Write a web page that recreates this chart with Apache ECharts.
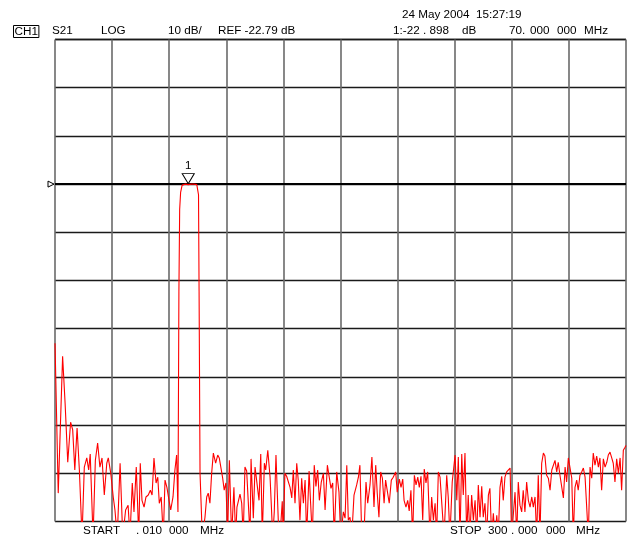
<!DOCTYPE html>
<html>
<head>
<meta charset="utf-8">
<script src="https://cdn.jsdelivr.net/npm/echarts@6/dist/echarts.min.js"></script>
<style>
html,body{margin:0;padding:0;background:#fff;}
#c{width:627px;height:538px;}
</style>
</head>
<body>
<div id="c"></div>
<script>
// ---- data (frequency in MHz, S21 in dB) ----
const freqMHz = [
0.01,1.7,4.0,5.3,6.7,8.2,9.3,10.4,11.6,12.8,14.2,15.4,16.7,17.7,18.5,20.0,21.2,22.4,23.6,24.7,25.9,27.2,28.0,29.3,30.6,31.5,32.7,34.2,35.6,37.1,38.4,39.4,40.6,41.5,42.7,44.0,44.8,45.7,46.8,47.8,49.0,50.1,51.0,52.0,53.1,54.0,54.8,55.8,56.9,57.8,58.8,59.9,60.8,62.0,63.0,63.9,64.6,
65.1,65.5,66.0,66.8,67.5,68.5,70.0,71.5,73.0,74.5,75.0,75.4,75.7,76.2,
77.4,78.8,79.7,80.5,81.4,82.3,83.2,84.4,85.5,86.3,87.2,88.1,88.9,89.8,90.7,91.6,92.8,94.0,94.9,95.6,96.3,97.2,98.1,98.9,99.8,100.7,101.6,102.5,103.0,104.2,105.1,106.0,107.2,108.1,108.9,110.0,110.7,111.8,113.0,114.4,115.2,116.1,117.3,118.2,119.4,119.9,120.8,121.7,123.5,124.4,125.2,126.1,127.0,127.8,128.7,129.6,130.5,131.4,132.2,133.5,134.3,135.2,136.2,137.1,138.0,138.9,139.9,141.0,141.9,143.1,144.0,145.0,145.9,146.7,148.0,149.2,150.1,151.5,152.4,153.3,154.1,155.0,155.9,157.1,158.5,159.4,160.2,161.1,162.3,163.4,164.3,165.5,166.5,167.6,168.5,169.3,170.2,171.1,172.0,172.9,173.7,174.6,175.6,176.7,177.7,179.0,179.8,180.9,181.8,182.7,183.4,184.4,185.3,186.1,187.0,187.9,188.8,189.7,190.6,191.4,192.3,193.2,194.0,194.9,195.8,197.0,197.9,198.8,199.7,200.5,201.4,202.3,203.3,204.4,205.8,206.6,207.5,208.7,209.5,210.2,211.1,211.9,212.8,213.7,214.5,215.4,216.3,217.1,218.0,218.9,219.8,220.7,221.6,222.4,223.3,224.2,225.0,225.9,226.8,227.7,228.5,229.4,230.3,231.2,232.1,232.9,233.8,234.7,235.5,236.4,237.3,238.2,239.1,239.9,240.8,241.7,242.6,243.4,244.3,245.2,246.0,246.9,247.8,248.7,249.6,250.5,251.3,252.2,253.1,253.9,254.8,255.7,256.6,257.4,258.3,259.2,260.1,261.0,261.8,262.7,263.6,264.4,265.3,266.2,267.1,268.0,268.8,269.7,270.6,271.5,272.3,273.2,274.1,274.9,275.8,276.7,277.6,278.5,279.4,280.2,281.1,282.0,282.8,283.7,284.6,285.5,286.3,287.2,288.1,289.0,289.9,290.7,291.6,292.5,293.3,294.2,295.1,296.0,296.9,297.7,298.6,299.5,300.0
];
const s21dB = [
-55.8,-86.9,-58.5,-68.2,-80.5,-72.2,-73.8,-82.1,-73.4,-82.1,-96,-81.5,-79.6,-82.1,-78.8,-96,-80.1,-76.5,-81.5,-79.6,-87.3,-80.7,-79.6,-82.8,-87.7,-90.4,-96,-80.7,-96,-90.4,-89.4,-96,-84.8,-90.8,-81.5,-96,-80.7,-88.4,-89.8,-87.7,-87.3,-86.3,-87.3,-79.6,-84.8,-83.6,-89.0,-87.7,-96,-84.2,-85.7,-88.4,-90.4,-87.7,-82.1,-79.0,-90.8,
-45,-28,-24.5,-23.0,-22.9,-22.8,-22.9,-22.8,-22.8,-22.9,-23.2,-25.0,-45,-82.8,
-96,-91.9,-87.7,-86.9,-89.0,-82.8,-78.6,-80.7,-79.0,-79.6,-79.6,-83.8,-86.3,-84.8,-96,-80.1,-96,-85.7,-96,-89.8,-89.6,-87.1,-89.0,-96,-81.5,-82.3,-82.3,-96,-79.8,-92.1,-81.5,-81.1,-88.4,-78.8,-96,-80.7,-82.1,-78.0,-83.6,-96,-90.8,-79.0,-92.5,-96,-88.6,-96,-82.8,-83.4,-85.7,-87.9,-82.1,-89.0,-80.7,-84.2,-92.5,-83.8,-89.0,-84.2,-96,-82.3,-89.0,-96,-81.1,-85.5,-82.1,-88.4,-84.6,-82.8,-90.4,-81.1,-81.1,-85.9,-84.8,-96,-82.5,-86.7,-96,-90.8,-92.1,-81.1,-92.5,-91.9,-96,-87.3,-85.2,-83.6,-81.1,-95,-96,-84.6,-89.0,-85.2,-79.4,-89.8,-81.1,-86.9,-91.9,-82.5,-83.8,-89.0,-84.2,-84.2,-89.0,-84.2,-83.6,-82.5,-86.7,-84.0,-85.7,-84.0,-88.4,-89.8,-88.4,-90.6,-86.3,-96,-83.2,-85.2,-83.6,-85.7,-83.4,-92.5,-81.9,-84.8,-82.5,-96,-87.7,-92.5,-89.0,-96,-82.5,-83.6,-83.6,-96,-83.2,-87.7,-96,-84.6,-84.6,-79.0,-88.4,-79.4,-96,-78.8,-87.3,-78.6,-96,-87.3,-96,-87.3,-92.5,-88.4,-96,-85.2,-91.9,-85.5,-91.9,-89.0,-96,-87.3,-85.9,-96,-91.1,-96,-91.5,-96,-85.7,-83.4,-88.4,-83.6,-82.5,-82.1,-81.7,-96,-96,-86.7,-96,-84.6,-89.4,-90.8,-86.3,-90.8,-84.6,-88.4,-89.8,-87.7,-89.8,-87.7,-96,-83.2,-96,-80.7,-78.6,-79.2,-83.2,-83.8,-86.3,-82.1,-81.9,-80.1,-82.5,-80.5,-83.2,-82.8,-87.9,-81.5,-84.6,-79.6,-79.4,-83.8,-96,-85.7,-84.2,-86.3,-83.2,-82.5,-81.7,-83.6,-83.6,-96,-81.5,-83.8,-78.6,-81.1,-79.2,-81.5,-79.6,-86.3,-79.8,-81.5,-80.5,-79.0,-78.4,-79.6,-80.7,-84.6,-79.8,-82.8,-79.6,-86.3,-78.0,-77.4,-77.0
];
const refLevel = -22.79;   // dB, reference position (4th division from top)
const scaleDiv = 10;       // dB per division
const startMHz = 0;
const stopMHz = 300;
const markerFreq = 70;
const markerVal = -22.898;

const headerTexts = ['S21','LOG','10 dB/','REF -22.79 dB','1:-22 . 898','dB','70.','000','000','MHz'];
const dateText = '24 May 2004  15:27:19';
const startTexts = ['START', '. 010', '000', 'MHz'];
const stopTexts = ['STOP', '300', '.', '000', '000', 'MHz'];

const traceData = freqMHz.map((f,i)=>[f, s21dB[i]]);
const yMin = refLevel - 7*scaleDiv;
const yMax = refLevel + 3*scaleDiv;

const FONT = '"Liberation Sans", Arial, sans-serif';
const FS = '11.7px ';
function txt(x,y,t){return {type:'text',left:x,top:y,style:{text:t,font:FS+FONT,fill:'#000'}};}

const chart = echarts.init(document.getElementById('c'), null, {renderer:'canvas'});
chart.setOption({
  animation:false,
  backgroundColor:'#fff',
  grid:{left:55, top:39.5, width:571, height:482, containLabel:false},
  xAxis:{type:'value', min:startMHz, max:stopMHz, interval:30,
    axisLine:{show:false}, axisTick:{show:false}, axisLabel:{show:false},
    splitLine:{show:true, lineStyle:{color:'#6a6a6a', width:1.6}}},
  yAxis:{type:'value', min:yMin, max:yMax, interval:scaleDiv,
    axisLine:{show:false}, axisTick:{show:false}, axisLabel:{show:false},
    splitLine:{show:true, lineStyle:{color:'#1a1a1a', width:1.3}}},
  series:[{
    type:'line', data:traceData, showSymbol:false, symbol:'none', clip:true,
    lineStyle:{color:'#ff0000', width:1.1}, z:5,
    markLine:{silent:true, symbol:'none', label:{show:false},
      lineStyle:{color:'#000', width:2, type:'solid'},
      data:[{yAxis:refLevel}], z:4},
    markPoint:{silent:true, data:[
      {coord:[markerFreq, markerVal], symbol:'triangle', symbolRotate:180, symbolSize:[12,10], symbolOffset:[0,-6],
        itemStyle:{color:'#fff', borderColor:'#000', borderWidth:1},
        label:{show:true, position:'top', distance:1, formatter:'1', color:'#000', fontSize:11.5, fontFamily:FONT}},
      {coord:[startMHz, refLevel], symbol:'triangle', symbolRotate:-90, symbolSize:[6,6], symbolOffset:[-4,0],
        itemStyle:{color:'#fff', borderColor:'#000', borderWidth:1}, label:{show:false}}
    ]}
  }],
  graphic:[
    {type:'text', left:402, top:9, style:{text:dateText, font:FS+FONT, fill:'#000'}},
    {type:'text', left:13, top:25, style:{text:'CH1', font:FS+FONT, fill:'#000', borderColor:'#000', borderWidth:1, padding:[0,1,0,1]}},
    txt(52,25,headerTexts[0]), txt(101,25,headerTexts[1]), txt(168,25,headerTexts[2]), txt(218,25,headerTexts[3]),
    txt(393,25,headerTexts[4]), txt(462,25,headerTexts[5]),
    txt(509,25,headerTexts[6]), txt(530,25,headerTexts[7]), txt(557,25,headerTexts[8]), txt(584,25,headerTexts[9]),
    txt(83,525,startTexts[0]), txt(136,525,startTexts[1]), txt(169,525,startTexts[2]), txt(200,525,startTexts[3]),
    txt(450,525,stopTexts[0]), txt(488,525,stopTexts[1]), txt(511,525,stopTexts[2]), txt(518,525,stopTexts[3]),
    txt(546,525,stopTexts[4]), txt(576,525,stopTexts[5])
  ]
});
</script>
</body>
</html>
